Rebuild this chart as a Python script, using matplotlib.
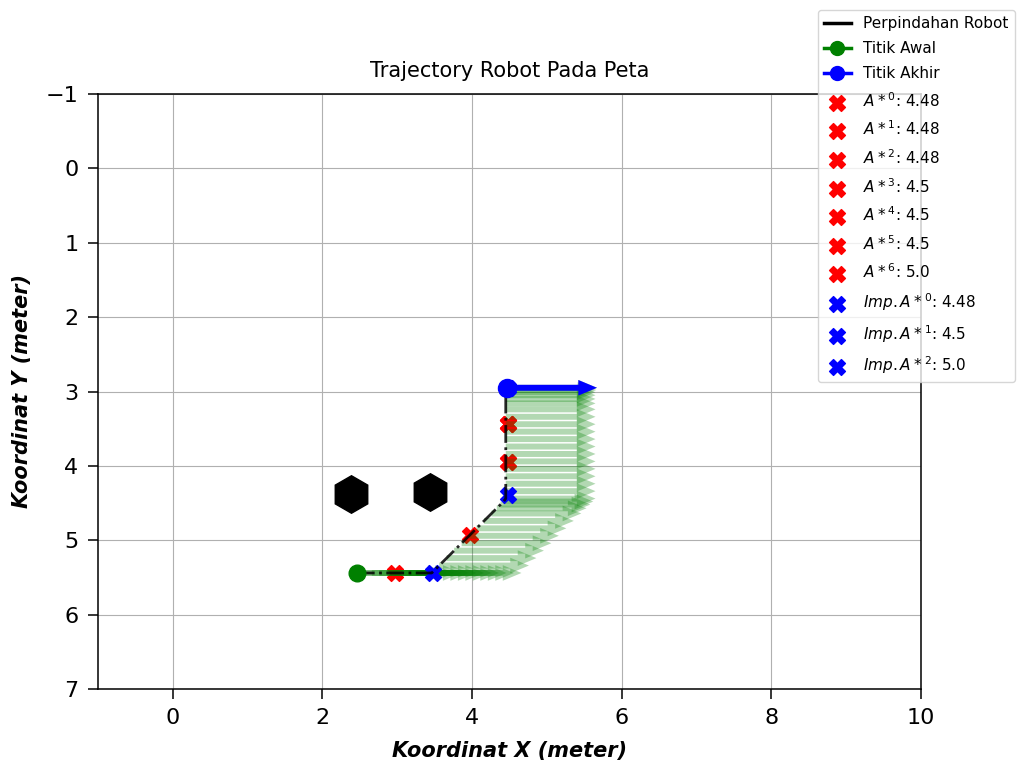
import numpy as np
import matplotlib.pyplot as plt
from matplotlib.lines import Line2D

# trajectory points (meter)
traj_x = [2.46, 2.56, 2.66, 2.76, 2.86, 2.96, 3.06, 3.16, 3.26, 3.36, 3.46,
          3.56, 3.66, 3.76, 3.86, 3.96, 4.06, 4.16, 4.26, 4.33, 4.38, 4.42, 4.45,
          4.45, 4.45, 4.45, 4.45, 4.45, 4.45, 4.45, 4.45, 4.45, 4.45,
          4.45, 4.45, 4.45, 4.45, 4.45, 4.45, 4.46, 4.47]
traj_y = [5.44, 5.44, 5.44, 5.44, 5.44, 5.44, 5.44, 5.44, 5.44, 5.44, 5.44,
          5.34, 5.24, 5.14, 5.04, 4.94, 4.84, 4.74, 4.64, 4.57, 4.52, 4.48, 4.44,
          4.34, 4.24, 4.14, 4.04, 3.94, 3.84, 3.74, 3.64, 3.54, 3.44,
          3.34, 3.24, 3.16, 3.10, 3.05, 3.01, 2.98, 2.95]
traj_theta = [0.0] * len(traj_x)

obstacle_x = [2.38, 3.44]
obstacle_y = [4.38, 4.35]

astar_cost = [4.48, 4.48, 4.48, 4.5, 4.5, 4.5, 5.0]
astar_x = [2.97, 3.97, 4.48, 4.48, 4.48, 4.48, 4.48]
astar_y = [5.44, 4.93, 3.95, 3.44, 3.44, 3.95, 3.44]

imp_cost = [4.48, 4.5, 5.0]
imp_x = [3.48, 4.48, 4.48]
imp_y = [5.44, 4.39, 2.95]

arrow_len = 1.2

fig = plt.figure(figsize=(10.18, 7.6), dpi=100)
ax = fig.add_axes([98/1018, 1 - 689/760, (921-98)/1018, (689-94)/760])

# obstacles
ax.plot(obstacle_x, obstacle_y, 'kh', markersize=27, zorder=2)

# A* results
for i in range(len(astar_cost)):
    ax.scatter(astar_x[i], astar_y[i], marker='X', s=130, color='red', zorder=3,
               label=f'$A*^{{{i}}}$: {astar_cost[i]}')

# heading arrows along trajectory
for x, y, th in zip(traj_x, traj_y, traj_theta):
    ax.arrow(x, y, arrow_len * np.cos(th), -arrow_len * np.sin(th), width=0.08,
             head_width=0.21, head_length=0.25, length_includes_head=True,
             color='green', alpha=0.3, linewidth=0, zorder=4)

for i in range(len(imp_cost)):
    ax.scatter(imp_x[i], imp_y[i], marker='X', s=130, color='blue', zorder=5,
               label=f'$Imp. A*^{{{i}}}$: {imp_cost[i]}')

ax.plot(traj_x, traj_y, color='black', linestyle='-.', linewidth=2, alpha=0.85, zorder=6)

ax.plot(traj_x[0], traj_y[0], 'o', color='green', markersize=12, zorder=7)
ax.plot(traj_x[-1], traj_y[-1], 'o', color='blue', markersize=13, zorder=7)
ax.arrow(traj_x[-1], traj_y[-1], arrow_len * np.cos(traj_theta[-1]), 0, width=0.08,
         head_width=0.21, head_length=0.25, length_includes_head=True,
         color='blue', linewidth=0, zorder=8)

ax.set_xlim(-1, 10)
ax.set_ylim(7, -1)
ax.set_xticks([0, 2, 4, 6, 8, 10])
ax.set_yticks([-1, 0, 1, 2, 3, 4, 5, 6, 7])
ax.tick_params(labelsize=16, length=7, pad=7, width=1.1)
for sp in ax.spines.values():
    sp.set_linewidth(1.1)
ax.grid(True)
ax.set_axisbelow(True)
ax.set_title('Trajectory Robot Pada Peta', fontsize=15, pad=12)
ax.set_xlabel('Koordinat X (meter)', fontsize=15, fontweight='bold', fontstyle='italic',
              labelpad=9)
ax.set_ylabel('Koordinat Y (meter)', fontsize=15, fontweight='bold', fontstyle='italic',
              labelpad=10)

handles, labels = ax.get_legend_handles_labels()
extra = [Line2D([], [], color='black', linewidth=2.5),
         Line2D([], [], color='green', marker='o', markersize=10, linewidth=2.5),
         Line2D([], [], color='blue', marker='o', markersize=10, linewidth=2.5)]
extra_labels = ['Perpindahan Robot', 'Titik Awal', 'Titik Akhir']
fig.legend(extra + handles, extra_labels + labels, loc='upper right',
           bbox_to_anchor=(1018/1018, 1 - 7/760), fontsize=11,
           handlelength=1.8, borderaxespad=0.2, labelspacing=0.65)

fig.savefig('out.png', dpi=100)
